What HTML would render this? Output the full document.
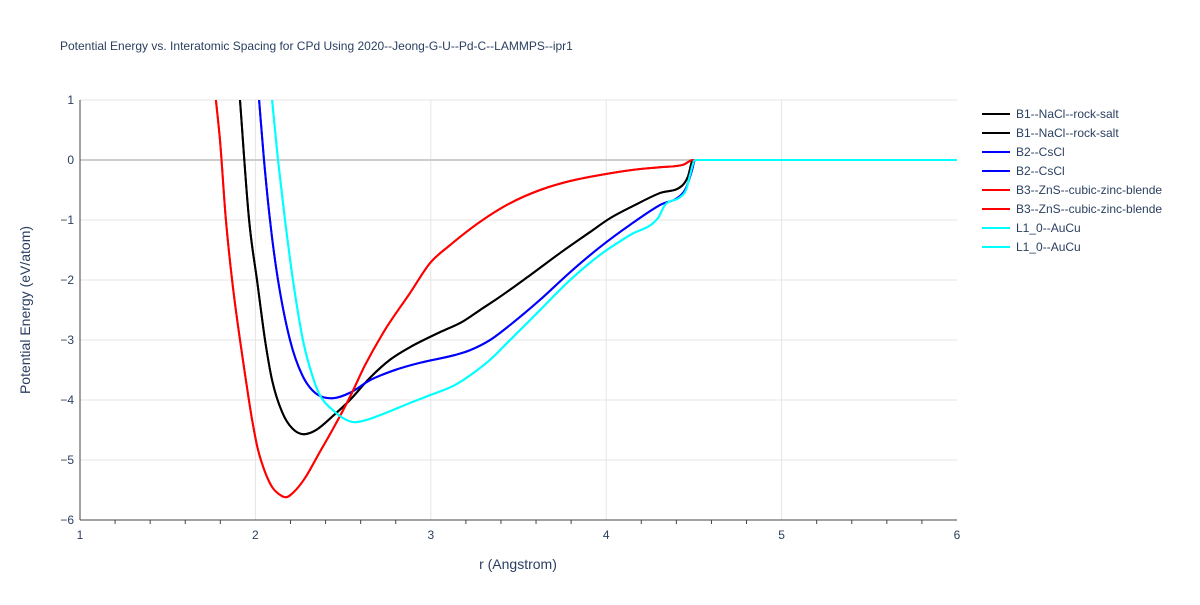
<!DOCTYPE html>
<html><head><meta charset="utf-8"><style>
body{margin:0;background:#fff;font-family:"Liberation Sans",Arial,sans-serif}
svg text{font-family:"Liberation Sans",Arial,sans-serif}
</style></head><body>
<svg id="chart" width="1200" height="600" xmlns="http://www.w3.org/2000/svg">
<rect width="1200" height="600" fill="#fff"/>
<text x="60" y="50" font-size="12" fill="#2a3f5f">Potential Energy vs. Interatomic Spacing for CPd Using 2020--Jeong-G-U--Pd-C--LAMMPS--ipr1</text>
<defs><clipPath id="plotclip"><rect x="80" y="100" width="877" height="420"/></clipPath></defs>
<g id="grid"></g>
<g id="series" clip-path="url(#plotclip)"></g>
<g id="axes"></g>
<g id="legend"></g>
<text x="518" y="569" font-size="14" fill="#2a3f5f" text-anchor="middle">r (Angstrom)</text>
<text transform="translate(30,310) rotate(-90)" font-size="14" fill="#2a3f5f" text-anchor="middle">Potential Energy (eV/atom)</text>
</svg>
<script>
const xTicks=[1,2,3,4,5,6];
const yTicks=[1,0,-1,-2,-3,-4,-5,-6];
const seriesNames=["B1--NaCl--rock-salt","B2--CsCl","B3--ZnS--cubic-zinc-blende","L1_0--AuCu"];
const seriesColors=["#000000","#0000ff","#ff0000","#00ffff"];
const b1R=[1.912,1.964,2.009,2.055,2.095,2.152,2.209,2.277,2.346,2.448,2.539,2.653,2.767,2.881,3.052,3.178,3.281,3.394,3.566,3.737,3.908,4.022,4.164,4.307,4.432,4.466,4.495,6];
const b1E=[1,-1,-2,-3,-3.67,-4.2,-4.47,-4.57,-4.5,-4.25,-4,-3.63,-3.33,-3.12,-2.87,-2.7,-2.5,-2.28,-1.92,-1.55,-1.2,-0.97,-0.75,-0.55,-0.43,-0.28,0,0];
const b2R=[2.021,2.049,2.083,2.129,2.197,2.266,2.340,2.437,2.539,2.653,2.796,2.938,3.138,3.224,3.338,3.452,3.623,3.794,3.965,4.136,4.307,4.421,4.455,4.489,4.506,6];
const b2E=[1,0,-1,-2,-3,-3.58,-3.88,-3.97,-3.88,-3.67,-3.5,-3.38,-3.25,-3.17,-3,-2.75,-2.33,-1.87,-1.45,-1.08,-0.75,-0.6,-0.47,-0.17,0,0];
const b3R=[1.775,1.798,1.832,1.867,1.912,1.946,1.981,2.015,2.055,2.095,2.140,2.174,2.220,2.283,2.357,2.454,2.539,2.625,2.739,2.881,2.995,3.109,3.281,3.452,3.623,3.794,3.965,4.136,4.307,4.438,4.495,6];
const b3E=[1,0.33,-1,-2,-3,-3.67,-4.33,-4.83,-5.2,-5.45,-5.58,-5.62,-5.53,-5.3,-4.92,-4.42,-3.95,-3.42,-2.83,-2.22,-1.72,-1.42,-1.03,-0.72,-0.5,-0.35,-0.25,-0.17,-0.12,-0.08,0,0];
const l10R=[2.095,2.129,2.169,2.214,2.271,2.323,2.368,2.442,2.511,2.568,2.636,2.739,2.881,2.995,3.138,3.252,3.338,3.452,3.623,3.794,3.965,4.136,4.295,4.335,4.421,4.455,4.478,4.506,6];
const l10E=[1,0,-1,-2,-3,-3.58,-3.92,-4.17,-4.32,-4.37,-4.33,-4.22,-4.05,-3.92,-3.75,-3.53,-3.33,-3,-2.5,-2,-1.58,-1.25,-0.97,-0.75,-0.62,-0.5,-0.25,0,0];
const NS="http://www.w3.org/2000/svg";
const X=r=>80+(r-1)*175.4, Y=e=>160-e*60;
function mk(tag,attrs,parent){const el=document.createElementNS(NS,tag);for(const k in attrs)el.setAttribute(k,attrs[k]);parent.appendChild(el);return el;}
function monoPath(xs,ys){
  const n=xs.length,d=[],m=[];
  for(let i=0;i<n-1;i++)d.push((ys[i+1]-ys[i])/(xs[i+1]-xs[i]));
  m[0]=d[0];m[n-1]=d[n-2];
  for(let i=1;i<n-1;i++){m[i]=(d[i-1]*d[i]<=0)?0:(d[i-1]+d[i])/2;}
  for(let i=0;i<n-1;i++){if(d[i]===0){m[i]=0;m[i+1]=0;continue;}
    const a=m[i]/d[i],b=m[i+1]/d[i],s=a*a+b*b;if(s>9){const t=3/Math.sqrt(s);m[i]=t*a*d[i];m[i+1]=t*b*d[i];}}
  let p='M'+xs[0].toFixed(1)+','+ys[0].toFixed(1);
  for(let i=0;i<n-1;i++){const h=(xs[i+1]-xs[i])/3;
    p+=' C'+(xs[i]+h).toFixed(1)+','+(ys[i]+m[i]*h).toFixed(1)+' '+(xs[i+1]-h).toFixed(1)+','+(ys[i+1]-m[i+1]*h).toFixed(1)+' '+xs[i+1].toFixed(1)+','+ys[i+1].toFixed(1);}
  return p;
}
const grid=document.getElementById('grid'),axes=document.getElementById('axes');
xTicks.forEach(t=>{
  if(t>1&&t<6){const l=mk('line',{x1:X(t),x2:X(t),y1:100,y2:520,stroke:'#e5e5e5','stroke-width':1},grid);
  
  }
  const tx=mk('text',{x:X(t),y:539,'font-size':12,fill:'#2a3f5f','text-anchor':'middle'},axes);tx.textContent=t;
  
  
});
for(let i=1;i<25;i++){if(i%5===0)continue;const m=mk('line',{x1:X(1+i*0.2),x2:X(1+i*0.2),y1:520,y2:524,stroke:'#444','stroke-width':1},axes);
  
  }
yTicks.forEach(t=>{
  const l=mk('line',{x1:80,x2:957,y1:Y(t),y2:Y(t),stroke:t===0?'#cccccc':'#e5e5e5','stroke-width':t===0?2:1},grid);
  
  
  const tx=mk('text',{x:74,y:Y(t)+4,'font-size':12,fill:'#2a3f5f','text-anchor':'end'},axes);tx.textContent=(t<0?'−'+(-t):t);
  
  
});
const ax1=mk('line',{x1:80,x2:957,y1:520,y2:520,stroke:'#444','stroke-width':1},axes);


const ax2=mk('line',{x1:80,x2:80,y1:100,y2:520,stroke:'#444','stroke-width':1},axes);


const data=[[b1R,b1E],[b2R,b2E],[b3R,b3E],[l10R,l10E]];
const sg=document.getElementById('series'),lg=document.getElementById('legend');
let row=0;
data.forEach((d,i)=>{
  for(let k=0;k<2;k++){
    const p=mk('path',{d:monoPath(d[0].map(X),d[1].map(Y)),fill:'none',stroke:seriesColors[i],'stroke-width':2,'stroke-linejoin':'round'},sg);
    
    
    const y=114+row*19;
    const g=mk('g',{},lg);
    
    
    mk('line',{x1:982,x2:1010,y1:y,y2:y,stroke:seriesColors[i],'stroke-width':2},g);
    const t=mk('text',{x:1016,y:y+4,'font-size':12,fill:'#2a3f5f'},g);t.textContent=seriesNames[i];
    row++;
  }
});
</script>
</body></html>
